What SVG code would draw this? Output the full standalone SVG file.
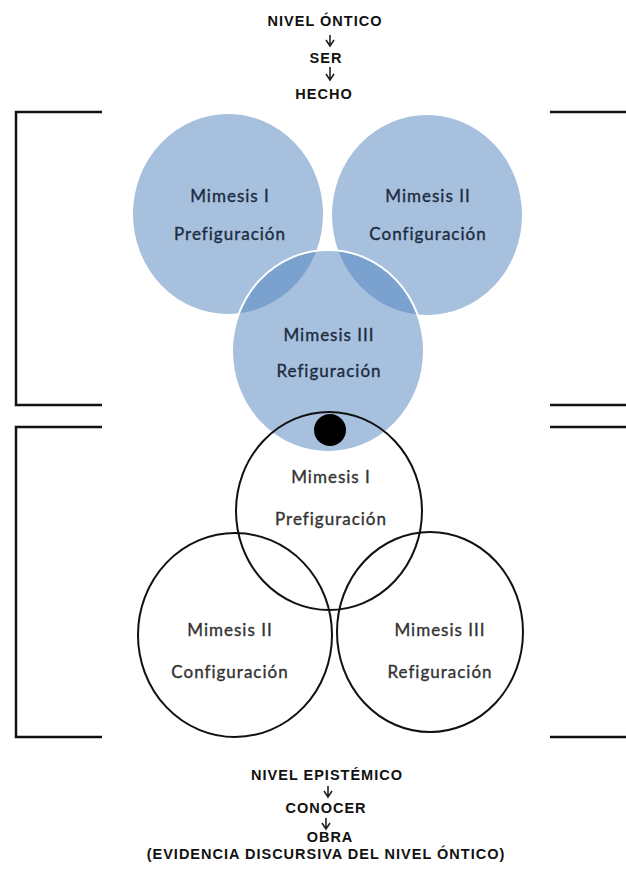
<svg xmlns="http://www.w3.org/2000/svg" width="626" height="869" viewBox="0 0 626 869">
<style>
.hdr{font-family:"Liberation Sans",Arial,sans-serif;font-weight:bold;font-size:14.5px;letter-spacing:1px;fill:#111;text-anchor:middle}
.lbl{font-family:Lato,"Open Sans",sans-serif;font-size:17px;letter-spacing:1px;text-anchor:middle;stroke-width:0.35px}
.blue{fill:#4f81bd;fill-opacity:0.5;stroke:#fff;stroke-width:2}
.ring{fill:none;stroke:#111;stroke-width:2}
.brk{fill:none;stroke:#111;stroke-width:2.5}
.arr{fill:none;stroke:#222;stroke-width:1.6}
</style>
<g id="brackets">
<path class="brk" d="M102,112 H16 V405 H102"/>
<path class="brk" d="M102,427 H16 V737 H102"/>
<path class="brk" d="M550,112 H626 M550,405 H626 M550,427 H626 M550,737 H626"/>
</g>
<g id="ontic-header">
<text class="hdr" x="325" y="26">NIVEL ÓNTICO</text>
<text class="hdr" x="326" y="63">SER</text>
<text class="hdr" x="324" y="99">HECHO</text>
</g>
<g id="top-m1"><ellipse class="blue" cx="228" cy="214" rx="96" ry="101"/></g>
<g id="top-m2"><ellipse class="blue" cx="427" cy="215" rx="96" ry="101"/></g>
<g id="top-m3"><ellipse class="blue" cx="328" cy="351" rx="96" ry="101"/></g>
<g id="top-labels" fill="#1c2b40" stroke="#1c2b40">
<text class="lbl" x="230" y="202">Mimesis I</text>
<text class="lbl" x="230" y="240">Prefiguración</text>
<text class="lbl" x="428" y="202">Mimesis II</text>
<text class="lbl" x="428" y="240">Configuración</text>
<text class="lbl" x="329" y="341">Mimesis III</text>
<text class="lbl" x="329" y="377">Refiguración</text>
</g>
<g id="dot"><ellipse cx="330" cy="430" rx="16" ry="16" fill="#000"/></g>
<g id="bot-m1"><ellipse class="ring" cx="329" cy="511" rx="93" ry="99"/>
<text class="lbl" x="331" y="483" fill="#333" stroke="#333">Mimesis I</text>
<text class="lbl" x="331" y="525" fill="#333" stroke="#333">Prefiguración</text></g>
<g id="bot-m2"><ellipse class="ring" cx="235" cy="635" rx="97" ry="102"/>
<text class="lbl" x="230" y="636" fill="#333" stroke="#333">Mimesis II</text>
<text class="lbl" x="230" y="678" fill="#333" stroke="#333">Configuración</text></g>
<g id="bot-m3"><ellipse class="ring" cx="430" cy="632" rx="93" ry="100"/>
<text class="lbl" x="440" y="636" fill="#333" stroke="#333">Mimesis III</text>
<text class="lbl" x="440" y="678" fill="#333" stroke="#333">Refiguración</text></g>
<g id="epistemic-footer">
<text class="hdr" x="327" y="780">NIVEL EPISTÉMICO</text>
<text class="hdr" x="326" y="813">CONOCER</text>
<text class="hdr" x="330" y="842">OBRA</text>
<text class="hdr" x="326" y="859">(EVIDENCIA DISCURSIVA DEL NIVEL ÓNTICO)</text>
</g>
<g id="connectors">
<path class="arr" d="M330,35 V46 M326,40 L330,46 L334,40"/>
<path class="arr" d="M330,67 V80 M326,74 L330,80 L334,74"/>
<path class="arr" d="M328,786 V797 M324,791 L328,797 L332,791"/>
<path class="arr" d="M326,818 V829 M322,823 L326,829 L330,823"/>
</g>
</svg>
